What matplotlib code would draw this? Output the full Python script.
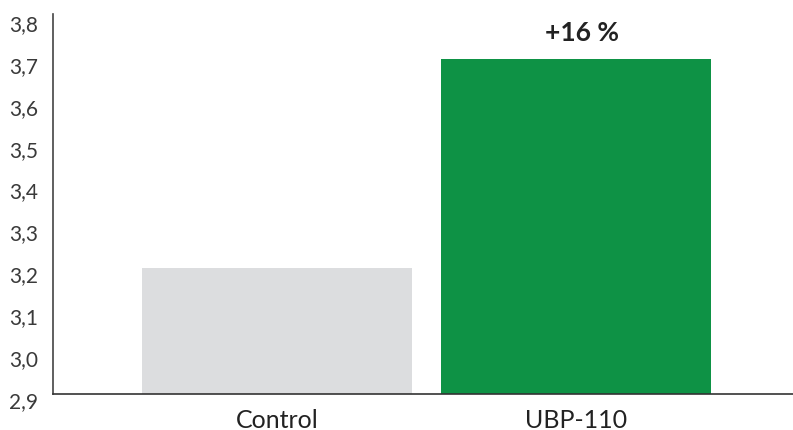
import matplotlib
matplotlib.use("Agg")
import matplotlib.pyplot as plt
import matplotlib.transforms as mtransforms

categorias = ["Control", "UBP-110"]
valores = [3.2, 3.7]
cores = ["#dcdddf", "#0e9245"]
rotulo = "+16 %"
ticks_y = [2.9, 3.0, 3.1, 3.2, 3.3, 3.4, 3.5, 3.6, 3.7, 3.8]

plt.rcParams["font.family"] = ["Lato", "DejaVu Sans"]

fig = plt.figure(figsize=(7.93, 4.31), dpi=100)
ax = fig.add_axes([53 / 793, 36 / 431, 740 / 793, 380 / 431])

x = list(range(len(categorias)))
ax.bar(x, valores, width=0.903, color=cores, bottom=0)
ax.set_ylim(2.9, 3.807)
ax.set_xlim(-0.749, 1.726)

ax.set_yticks(ticks_y)
ax.set_yticklabels([f"{v:.1f}".replace(".", ",") for v in ticks_y])
ax.set_xticks(x)
ax.set_xticklabels(categorias)

ax.tick_params(axis="y", length=0, pad=11, labelsize=15, labelcolor="#3a3a3a")
ax.tick_params(axis="x", length=0, pad=10, labelsize=18, labelcolor="#222222")

# rotulos do eixo y ficam um pouco abaixo da marca no original
desloc = mtransforms.ScaledTranslation(0, -5 / 100, fig.dpi_scale_trans)
for lbl in ax.get_yticklabels():
    lbl.set_transform(lbl.get_transform() + desloc)

for s in ["top", "right"]:
    ax.spines[s].set_visible(False)
ax.spines["left"].set_color("#444444")
ax.spines["bottom"].set_color("#333333")
ax.spines["left"].set_linewidth(1.2)
ax.spines["bottom"].set_linewidth(1.2)

ax.text(x[1] + 0.02, valores[1] + 0.035, rotulo, ha="center", va="bottom",
        fontsize=19, fontweight="bold", color="#222222")

fig.savefig("out.png", dpi=100)
